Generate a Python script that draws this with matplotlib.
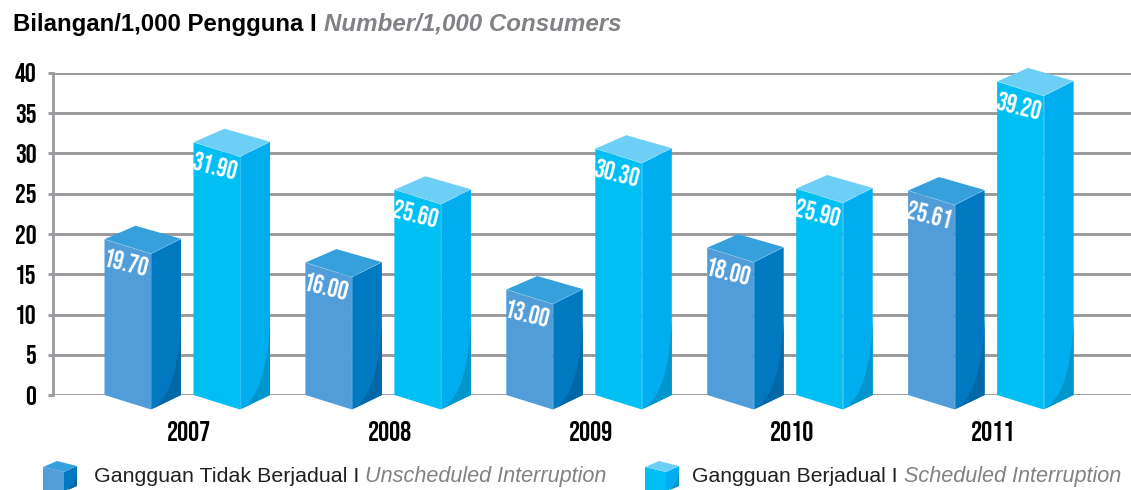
import matplotlib
matplotlib.use("Agg")
import matplotlib.pyplot as plt
from matplotlib.patches import Polygon, PathPatch
from matplotlib.path import Path

years = ["2007", "2008", "2009", "2010", "2011"]
unscheduled_labels = ["19.70", "16.00", "13.00", "18.00", "25.61"]
scheduled_labels = ["31.90", "25.60", "30.30", "25.90", "39.20"]
unscheduled_drawn = [19.35, 16.45, 13.1, 18.3, 25.4]
scheduled_drawn = [31.4, 25.5, 30.6, 25.65, 38.95]
yticks = [0, 5, 10, 15, 20, 25, 30, 35, 40]

W, H = 1131, 490
X0, X1, Y0, Y40 = 53, 1131, 395, 73
STEP = 200.9
CX = 189.0
NARROW = ["Bebas Neue", "DejaVu Sans"]

fig = plt.figure(figsize=(W / 100, H / 100), dpi=100, facecolor="white")
ax = fig.add_axes([X0 / W, 1 - Y0 / H, (X1 - X0) / W, (Y0 - Y40) / H])
ax.set_xlim((X0 - CX) / STEP, (X1 - CX) / STEP)
ax.set_ylim(0, 40)
for s in ax.spines.values():
    s.set_visible(False)
ax.spines["left"].set_visible(True)
ax.spines["left"].set_color("#9a9a9e")
ax.spines["left"].set_linewidth(2.0)
ax.set_axisbelow(True)
ax.yaxis.grid(True, color="#9a9a9e", lw=2.1)
ax.set_yticks(yticks)
ax.set_yticklabels([str(t) for t in yticks], family=NARROW, fontsize=19.5, color="black")
ax.tick_params(axis="y", length=3.8, width=2.1, color="#9a9a9e", pad=8.2)
ax.set_xticks(range(len(years)))
ax.set_xticklabels(years, family=NARROW, fontsize=20, color="black")
ax.tick_params(axis="x", length=0, pad=18.7)

py = (Y0 - Y40) / 40.0


def dx(px):
    return px / STEP


def dy(px):
    return px / py


def bar3d(ax, xc, left_px, val, colors, label):
    front, side, top, shade = colors
    FW, SW = 46.5, 30.0
    DROP, RISE = 14.5, 15.0
    BACK = 13.5
    xl = xc + dx(left_px)
    xm = xl + dx(FW)
    xr = xm + dx(SW)
    yt = val
    kw = dict(clip_on=False, lw=0, zorder=3)
    ax.add_patch(Polygon([(xl, 0), (xm, -dy(DROP)), (xm, yt - dy(DROP)), (xl, yt)], fc=front, **kw))
    ax.add_patch(Polygon([(xm, -dy(DROP)), (xr, 0), (xr, yt - dy(DROP) + dy(RISE)), (xm, yt - dy(DROP))], fc=side, **kw))
    ax.add_patch(Polygon([(xl, yt), (xm, yt - dy(DROP)), (xr, yt - dy(DROP) + dy(RISE)),
                          (xl + dx(31), yt + dy(BACK))], fc=top, **kw))
    verts = [(xm, -dy(DROP)), (xm + dx(22), -dy(2)), (xr - dx(2), dy(35)), (xr, dy(75)), (xr, 0), (xm, -dy(DROP))]
    codes = [Path.MOVETO, Path.CURVE4, Path.CURVE4, Path.CURVE4, Path.LINETO, Path.CLOSEPOLY]
    ax.add_patch(PathPatch(Path(verts, codes), fc=shade, **kw))
    ax.plot([xm, xm], [-dy(DROP), yt - dy(DROP)], color="white", alpha=0.22, lw=0.6, zorder=4, clip_on=False)
    ax.plot([xl, xm, xr], [yt, yt - dy(DROP), yt - dy(DROP) + dy(RISE)], color="white", alpha=0.22, lw=0.6, zorder=4, clip_on=False)
    ax.text(xl + dx(21.5), yt - dy(23.5), label, color="white", family=NARROW,
            fontsize=18.5, rotation=-14, rotation_mode="anchor",
            ha="center", va="center", zorder=5, clip_on=False)


COL_U = ("#519dd9", "#0079c1", "#35a0db", "#0068a6")
COL_S = ("#00bff3", "#00aeef", "#6dcff6", "#0095cb")

for i in range(len(years)):
    bar3d(ax, i, 104.5 - CX, unscheduled_drawn[i], COL_U, unscheduled_labels[i])
    bar3d(ax, i, 193.5 - CX, scheduled_drawn[i], COL_S, scheduled_labels[i])

ft = fig.transFigure


def fx(x):
    return x / W


def fy(y):
    return 1 - y / H


fig.text(fx(13), fy(24), "Bilangan/1,000 Pengguna I", family="Liberation Sans", fontweight="bold",
         fontsize=15.3 * 1.13, color="black", va="center", ha="left")
fig.text(fx(324), fy(24), "Number/1,000 Consumers", family="Liberation Sans", fontweight="bold",
         style="italic", fontsize=15.3 * 1.137, color="#808285", va="center", ha="left")


def cube(x, colors):
    front, side, top, shade = colors
    pts = lambda L: [(fx(a), fy(b)) for a, b in L]
    kw = dict(transform=ft, lw=0)
    fig.add_artist(Polygon(pts([(x, 467), (x + 21, 472), (x + 21, 491), (x, 491)]), fc=front, **kw))
    fig.add_artist(Polygon(pts([(x + 21, 472), (x + 34, 466), (x + 34, 486), (x + 21, 491)]), fc=side, **kw))
    fig.add_artist(Polygon(pts([(x, 467), (x + 21, 472), (x + 34, 466), (x + 14, 461)]), fc=top, **kw))
    fig.add_artist(Polygon(pts([(x + 25, 490), (x + 31, 482), (x + 34, 472), (x + 34, 486)]), fc=shade, **kw))


cube(43, COL_U)
cube(645, COL_S)

fig.text(fx(94), fy(476), "Gangguan Tidak Berjadual I", family="Liberation Sans", fontsize=15.4,
         color="#231f20", va="center", ha="left")
fig.text(fx(365), fy(476), "Unscheduled Interruption", family="Liberation Sans", style="italic",
         fontsize=15.6, color="#808285", va="center", ha="left")
fig.text(fx(692), fy(476), "Gangguan Berjadual I", family="Liberation Sans", fontsize=15.2,
         color="#231f20", va="center", ha="left")
fig.text(fx(904), fy(476), "Scheduled Interruption", family="Liberation Sans", style="italic",
         fontsize=15.6, color="#808285", va="center", ha="left")

fig.savefig("out.png", dpi=100, facecolor="white")
